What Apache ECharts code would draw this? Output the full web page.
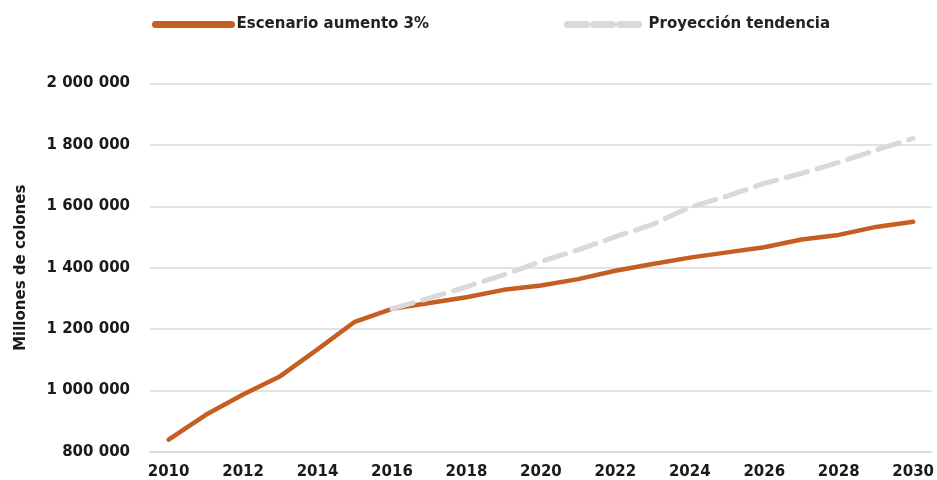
<!DOCTYPE html>
<html>
<head>
<meta charset="utf-8">
<script src="https://cdn.jsdelivr.net/npm/echarts@6/dist/echarts.min.js"></script>
<style>
  html, body { margin: 0; padding: 0; background: #fff; }
  #chart { width: 937px; height: 480px; }
</style>
</head>
<body>
<div id="chart"></div>
<script>
const years = ['2010', '2011', '2012', '2013', '2014', '2015', '2016', '2017', '2018', '2019', '2020',
  '2021', '2022', '2023', '2024', '2025', '2026', '2027', '2028', '2029', '2030']
const escenario = [840000, 921000, 987000, 1047000, 1134000, 1224000, 1266000, 1285000, 1304000, 1328000, 1342000,
  1363000, 1390000, 1412000, 1433000, 1450000, 1467000, 1492000, 1507000, 1533000, 1550000]
const tendencia = [null, null, null, null, null, null, 1266000, 1301000, 1338000, 1377000, 1420000,
  1458000, 1501000, 1541000, 1597000, 1633000, 1675000, 1707000, 1743000, 1783000, 1821000]
const names = ['Escenario aumento 3%', 'Proyección tendencia']

const font = 'DejaVu Sans'
const chart = echarts.init(document.getElementById('chart'))

function fmt(v) {
  return String(v).replace(/\B(?=(\d{3})+(?!\d))/g, ' ')
}

chart.setOption({
  animation: false,
  legend: {
    top: 12, left: 147, itemGap: 135, itemWidth: 76, itemHeight: 14,
    textStyle: { fontFamily: font, fontWeight: 'bold', fontSize: 15, color: '#222' },
    itemStyle: { opacity: 0 },
    data: [
      { name: names[0], lineStyle: { width: 7, cap: 'round' }, itemStyle: { opacity: 0 } },
      { name: names[1], lineStyle: { width: 7, type: [19, 7], cap: 'round' }, itemStyle: { opacity: 0 } }
    ]
  },
  grid: { left: 150, right: 3, top: 83.5, bottom: 27.7 },
  xAxis: {
    type: 'category', data: years, boundaryGap: true,
    axisLine: { lineStyle: { color: '#d9d9d9', width: 1.5 } },
    axisTick: { show: false },
    axisLabel: { interval: 1, margin: 13, fontFamily: font, fontWeight: 'bold', fontSize: 15, color: '#1a1a1a' }
  },
  yAxis: {
    type: 'value', min: 800000, max: 2000000, interval: 200000,
    name: 'Millones de colones', nameLocation: 'middle', nameGap: 121,
    nameTextStyle: { fontFamily: font, fontWeight: 'bold', fontSize: 15, color: '#1a1a1a' },
    axisLine: { show: false }, axisTick: { show: false },
    splitLine: { lineStyle: { color: '#d9d9d9', width: 1.5 } },
    axisLabel: { margin: 20, fontFamily: font, fontWeight: 'bold', fontSize: 15, color: '#1a1a1a', formatter: fmt }
  },
  series: [
    {
      name: names[0], type: 'line', data: escenario, symbol: 'none',
      lineStyle: { color: '#c65d21', width: 4.5, cap: 'round', join: 'round' },
      itemStyle: { color: '#c65d21' }
    },
    {
      name: names[1], type: 'line', data: tendencia, symbol: 'none',
      lineStyle: { color: '#d9d9d9', width: 5, type: [22, 10], cap: 'round' },
      itemStyle: { color: '#d9d9d9' }
    }
  ]
})
</script>
</body>
</html>
